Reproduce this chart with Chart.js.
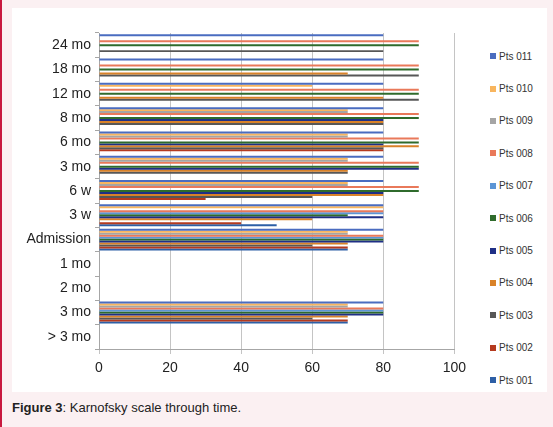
<!DOCTYPE html>
<html>
<head>
<meta charset="utf-8">
<script src="https://cdn.jsdelivr.net/npm/chart.js@4.4.1/dist/chart.umd.min.js"></script>
<style>
  body { margin: 0; width: 553px; height: 427px; background: #fbf0f2; position: relative; overflow: hidden; border-left: 2px solid #c8193f; box-sizing: border-box; }
  #panel { position: absolute; left: 10px; top: 8px; width: 535px; height: 384px; background: #fff; }
  #wrap { position: absolute; left: 0; top: 0; width: 460px; height: 384px; }
  #legend { position: absolute; left: 478px; top: 32px; font-family: "Liberation Sans Narrow", "Liberation Sans", sans-serif; font-size: 10px; color: #333; }
  #legend div { height: 32.4px; display: flex; align-items: center; }
  #legend span.sw { display: inline-block; width: 6px; height: 6px; margin-right: 3px; }
  #caption { position: absolute; left: 10px; top: 400px; font-family: "Liberation Sans", Arial, sans-serif; font-size: 13px; color: #222; }
</style>
</head>
<body>
<div id="panel">
  <div id="wrap"><canvas id="chart"></canvas></div>
  <div id="legend"></div>
</div>
<div id="caption"><b>Figure 3</b>: Karnofsky scale through time.</div>
<script>
"use strict";

// time points, top to bottom
var timePoints = ["24 mo", "18 mo", "12 mo", "8 mo", "6 mo", "3 mo", "6 w", "3 w", "Admission", "1 mo", "2 mo", "3 mo", "> 3 mo"];

// one Karnofsky score per time point for each patient (null = no record)
var pts011 = [80, 80, 80, 80, 80, 80, 80, 80, 80, null, null, 80, null];
var pts010 = [null, null, 60, 70, 70, 70, 70, 80, 70, null, null, 70, null];
var pts009 = [null, null, null, 70, 70, 70, 70, null, 70, null, null, 70, null];
var pts008 = [90, 90, 90, 90, 90, 90, 90, 80, 80, null, null, 80, null];
var pts007 = [null, null, null, null, null, null, null, 80, 80, null, null, 80, null];
var pts006 = [90, 90, 90, 90, 90, 90, 90, 70, 80, null, null, 80, null];
var pts005 = [null, null, null, 80, 80, 90, 80, 80, 80, null, null, 80, null];
var pts004 = [null, 70, 80, 80, 90, 70, 80, 60, 70, null, null, 70, null];
var pts003 = [80, 90, 90, 80, 80, 70, 60, null, 60, null, null, 60, null];
var pts002 = [null, null, null, null, 80, null, 30, 40, 70, null, null, 70, null];
var pts001 = [null, null, null, null, null, null, null, 50, 70, null, null, 70, null];

var seriesNames = ["Pts 011", "Pts 010", "Pts 009", "Pts 008", "Pts 007", "Pts 006", "Pts 005", "Pts 004", "Pts 003", "Pts 002", "Pts 001"];
var seriesValues = [pts011, pts010, pts009, pts008, pts007, pts006, pts005, pts004, pts003, pts002, pts001];
var seriesColors = ["#4a6cc0", "#f8b55e", "#a5a5a5", "#e9795a", "#5b95d6", "#2f6b2c", "#1f2f86", "#d98228", "#575757", "#b53a1f", "#2d5fa6"];

var xTicks = [0, 20, 40, 60, 80, 100];

var datasets = seriesNames.map(function (name, i) {
    return {
        label: name,
        data: seriesValues[i],
        backgroundColor: seriesColors[i],
        borderWidth: 0,
        categoryPercentage: 0.9,
        barPercentage: 1.0
    };
});

var labelFont = { family: "'Liberation Sans Narrow', 'Liberation Sans', sans-serif", size: 14 };

var chart = new Chart(document.getElementById("chart").getContext("2d"), {
    type: "bar",
    data: { labels: timePoints, datasets: datasets },
    options: {
        indexAxis: "y",
        responsive: true,
        maintainAspectRatio: false,
        animation: false,
        layout: { padding: { top: 25, right: 8, left: 0, bottom: 0 } },
        plugins: { legend: { display: false }, tooltip: { enabled: false } },
        scales: {
            x: {
                min: 0,
                max: 100,
                afterBuildTicks: function (scale) {
                    scale.ticks = xTicks.map(function (v) { return { value: v }; });
                },
                afterFit: function (scale) { scale.height = 43; },
                grid: { color: "#c4c4c4", lineWidth: 1, tickLength: 5 },
                border: { color: "#a6a6a6" },
                ticks: { color: "#222", font: labelFont, padding: 6 }
            },
            y: {
                afterFit: function (scale) { scale.width = 87; },
                grid: { drawOnChartArea: false, color: "#a6a6a6", tickLength: 4, offset: true },
                border: { color: "#a6a6a6" },
                ticks: { color: "#222", font: labelFont, padding: 4, autoSkip: false }
            }
        }
    }
});

// legend column, same top-to-bottom order as the bars in each group
var legend = document.getElementById("legend");
seriesNames.forEach(function (name, i) {
    var row = document.createElement("div");
    var sw = document.createElement("span");
    sw.className = "sw";
    sw.style.background = seriesColors[i];
    row.appendChild(sw);
    row.appendChild(document.createTextNode(name));
    legend.appendChild(row);
});
</script>
</body>
</html>
